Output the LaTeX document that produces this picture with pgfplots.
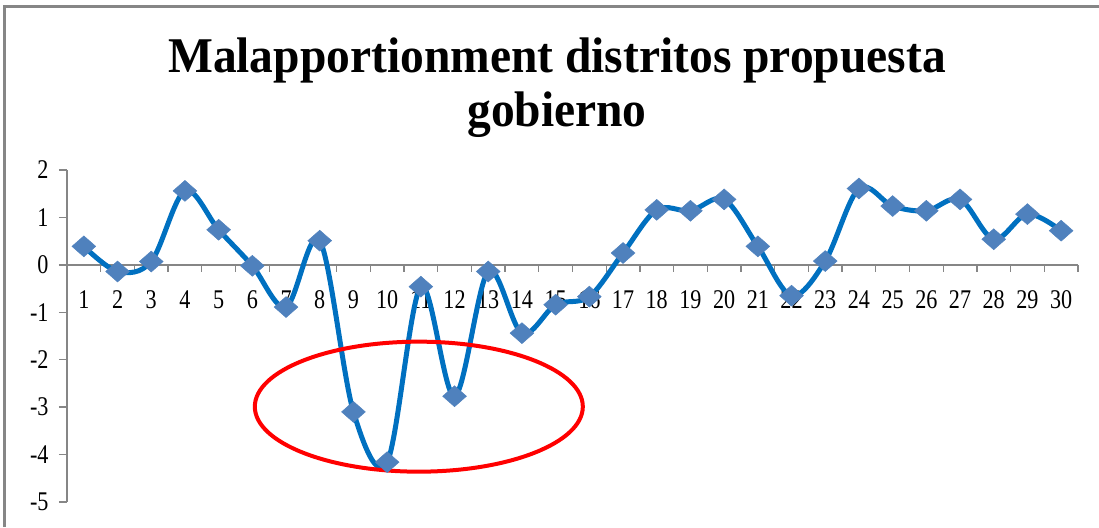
\documentclass[border=0pt]{standalone}
\usepackage{fontspec}
\setmainfont{Liberation Serif}
\newfontfamily\titlefont{Liberation Serif}[FakeStretch=0.95]
\newfontfamily\tickfont{Liberation Serif}[FakeStretch=0.82]
\usepackage{pgfplots}
\pgfplotsset{compat=1.18}
\definecolor{lineblue}{RGB}{0,112,192}
\definecolor{markblue}{RGB}{79,129,189}
\definecolor{framegray}{RGB}{134,134,134}
\definecolor{axisgray}{RGB}{134,134,134}
\begin{document}
\begin{tikzpicture}
\useasboundingbox (0pt,0pt) rectangle (1099pt,527pt);
\draw[framegray, line width=3pt] (4.5pt,0pt) -- (4.5pt,520pt) -- (1099pt,520pt);
\node[anchor=base, font=\titlefont\bfseries\fontsize{50}{54}\selectfont] at (557pt,454pt) {Malapportionment distritos propuesta};
\node[anchor=base, font=\titlefont\bfseries\fontsize{50}{54}\selectfont] at (557pt,400pt) {gobierno};
\begin{axis}[
  at={(67pt,25pt)}, anchor=south west,
  scale only axis, width=1011pt, height=332pt,
  xmin=0.5, xmax=30.5, ymin=-5, ymax=2,
  axis x line=middle, axis y line=left,
  axis line style={draw=axisgray, line width=1.3pt, -},
  xtick={1,...,30},
  minor xtick={0.5,1.5,...,30.5},
  ytick={-5,...,2},
  tick align=outside,
  major tick length=8pt, minor tick length=7pt,
  every major x tick/.style={draw=none},
  tick style={draw=axisgray, line width=1.3pt},
  /pgf/number format/assume math mode=true,
  tick label style={font=\tickfont\fontsize{27}{27}\selectfont, text=black},
  xticklabel style={anchor=center, yshift=-27pt},
  yticklabel style={anchor=east, xshift=-7pt},
  clip=false,
]
\addplot[color=lineblue, line width=5pt, smooth, tension=0.55,
  mark=square*, mark size=8.4pt,
  mark options={fill=markblue, draw=markblue, line width=0.5pt, yscale=0.88, rotate=45}]
  coordinates {
  (1,0.39) (2,-0.14) (3,0.07) (4,1.56) (5,0.74) (6,-0.02) (7,-0.89) (8,0.51)
  (9,-3.10) (10,-4.16) (11,-0.46) (12,-2.77) (13,-0.14) (14,-1.44) (15,-0.84)
  (16,-0.67) (17,0.25) (18,1.16) (19,1.14) (20,1.38) (21,0.39) (22,-0.65)
  (23,0.08) (24,1.61) (25,1.24) (26,1.14) (27,1.38) (28,0.54) (29,1.07) (30,0.72)
  };
\draw[red, line width=4pt] (axis cs:10.94,-2.99) ellipse [x radius=164pt, y radius=65pt];
\end{axis}
\end{tikzpicture}
\end{document}
